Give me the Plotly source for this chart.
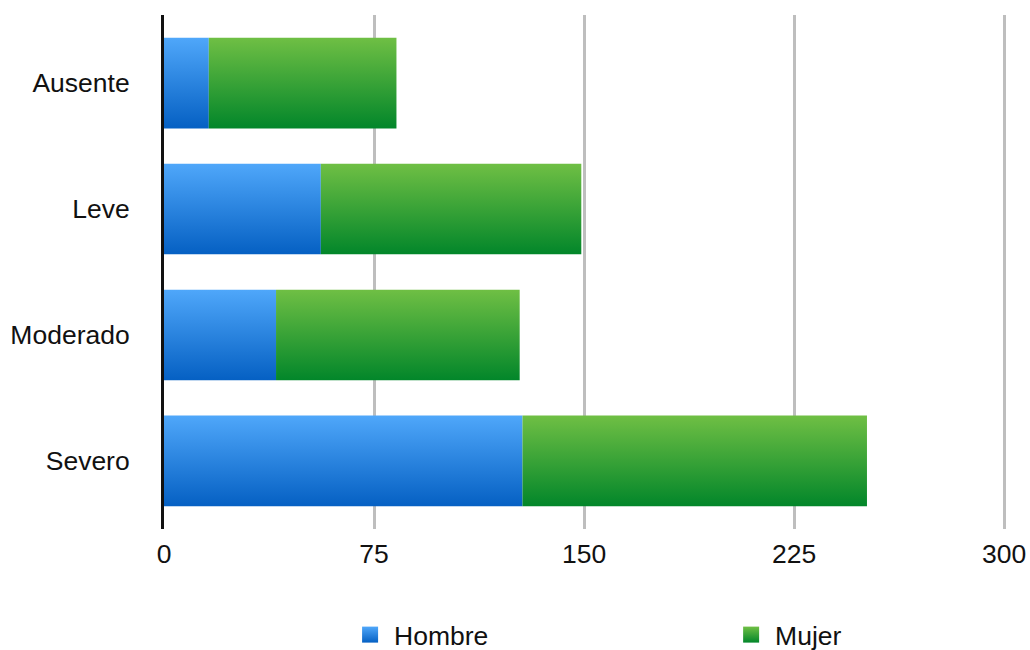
import plotly.graph_objects as go

# Stacked counts per severity level
categories = ["Ausente", "Leve", "Moderado", "Severo"]
hombre = [16, 56, 40, 128]
mujer = [67, 93, 87, 123]
x_ticks = [0, 75, 150, 225, 300]

series = [
    ("Hombre", hombre, "#4FA7FA", "#0560C3", "legend", 0.216),
    ("Mujer", mujer, "#6FBF44", "#02862A", "legend2", 0.668),
]

BAR_WIDTH = 0.72
FONT = "Arial, Liberation Sans, sans-serif"
FONT_SIZE = 26.5

fig = go.Figure()

# Each stacked segment is a filled polygon so it can carry a vertical gradient
base = [0] * len(categories)
for name, values, top_col, bot_col, _, _ in series:
    for i, v in enumerate(values):
        x0 = base[i]
        x1 = base[i] + v
        y0 = i - BAR_WIDTH / 2
        y1 = i + BAR_WIDTH / 2
        fig.add_trace(go.Scatter(
            x=[x0, x1, x1, x0, x0],
            y=[y0, y0, y1, y1, y0],
            mode="lines",
            line=dict(width=0),
            fill="toself",
            fillgradient=dict(type="vertical",
                              colorscale=[[0, bot_col], [1, top_col]]),
            fillcolor=top_col,
            showlegend=False,
            hoverinfo="skip",
        ))
        base[i] = x1

# One legend box per series, each holding a gradient square
legend_boxes = {}
for name, values, top_col, bot_col, legend_id, legend_x in series:
    fig.add_trace(go.Scatter(
        x=[None], y=[None],
        mode="markers",
        name=name,
        legend=legend_id,
        marker=dict(symbol="square", size=20, color=top_col,
                    gradient=dict(type="vertical", color=bot_col),
                    line=dict(width=0)),
    ))
    legend_boxes[legend_id] = dict(
        orientation="v",
        x=legend_x,
        xanchor="left",
        y=-0.206,
        yanchor="middle",
        font=dict(family=FONT, size=FONT_SIZE, color="#111111"),
        itemsizing="trace",
        itemwidth=38,
        bgcolor="rgba(0,0,0,0)",
    )

fig.update_layout(
    width=1030,
    height=650,
    margin=dict(l=164, r=23, t=15, b=121, autoexpand=False),
    paper_bgcolor="white",
    plot_bgcolor="white",
    font=dict(family=FONT, size=FONT_SIZE, color="#111111"),
    showlegend=True,
    xaxis=dict(
        range=[0, 301],
        tickvals=x_ticks,
        ticktext=[str(t) for t in x_ticks],
        showgrid=True,
        gridcolor="#BEBEBE",
        gridwidth=3,
        zeroline=False,
        showline=False,
        ticks="",
        ticklabelstandoff=6,
        fixedrange=True,
    ),
    yaxis=dict(
        range=[len(categories) - 1 + 0.54, -0.54],
        tickvals=list(range(len(categories))),
        ticktext=categories,
        showgrid=False,
        zeroline=False,
        showline=True,
        linecolor="#111111",
        linewidth=3,
        ticks="",
        ticklabelstandoff=26,
        fixedrange=True,
    ),
    **legend_boxes,
)

fig.write_html("out.html")
